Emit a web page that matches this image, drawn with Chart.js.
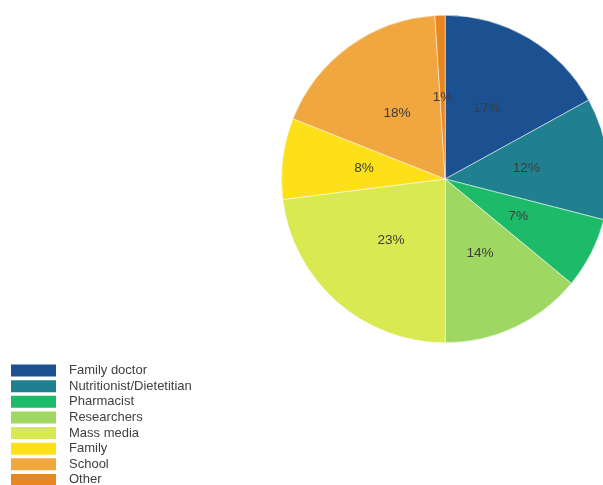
<!DOCTYPE html>
<html>
<head>
<meta charset="utf-8">
<script src="https://cdn.jsdelivr.net/npm/chart.js@4/dist/chart.umd.min.js"></script>
<style>
  html, body { margin: 0; padding: 0; background: #fff; overflow: hidden; }
  #wrap { width: 696px; height: 489px; }
</style>
</head>
<body>
<div id="wrap"><canvas id="myChart" width="696" height="489"></canvas></div>
<script>
const categories = ['Family doctor', 'Nutritionist/Dietetitian', 'Pharmacist', 'Researchers',
  'Mass media', 'Family', 'School', 'Other'];
const shares = [17, 12, 7, 14, 23, 8, 18, 1];
const sliceColors = ['#1b5191', '#21808f', '#1dba6a', '#9ed862',
  '#d8e951', '#fde01a', '#f0a73f', '#e8861f'];

// percent labels in the middle of each slice
const sliceLabels = {
  id: 'sliceLabels',
  afterDatasetsDraw(chart) {
    const ctx = chart.ctx;
    const meta = chart.getDatasetMeta(0);
    ctx.save();
    ctx.font = '13.6px Arial, "Liberation Sans", sans-serif';
    ctx.fillStyle = '#3c3c3c';
    ctx.textAlign = 'center';
    ctx.textBaseline = 'middle';
    meta.data.forEach((arc, i) => {
      const p = arc.getCenterPoint();
      ctx.fillText(shares[i] + '%', p.x, p.y);
    });
    ctx.restore();
  }
};

const ctx = document.getElementById('myChart').getContext('2d');
new Chart(ctx, {
  type: 'pie',
  data: {
    labels: categories,
    datasets: [{
      data: shares,
      backgroundColor: sliceColors,
      borderColor: '#ffffff',
      borderWidth: 0.5,
      hoverOffset: 0
    }]
  },
  options: {
    responsive: false,
    animation: false,
    layout: { padding: { left: 8.375, top: 15, right: 0, bottom: 0 } },
    plugins: {
      tooltip: { enabled: false },
      legend: {
        position: 'left',
        align: 'end',
        maxWidth: 186,
        labels: {
          boxWidth: 45,
          boxHeight: 12,
          padding: 2.625,
          color: '#404040',
          font: { family: 'Arial, "Liberation Sans", sans-serif', size: 13 },
          generateLabels(chart) {
            const items = Chart.overrides.pie.plugins.legend.labels.generateLabels(chart);
            items.forEach(it => {
              it.lineWidth = 0;
              it.text = '\u2002' + it.text;
            });
            return items;
          }
        }
      },
      title: {
        display: true,
        position: 'bottom',
        text: '',
        padding: { top: 131.6, bottom: 0 },
        font: { size: 12 }
      }
    }
  },
  plugins: [sliceLabels]
});
</script>
</body>
</html>
